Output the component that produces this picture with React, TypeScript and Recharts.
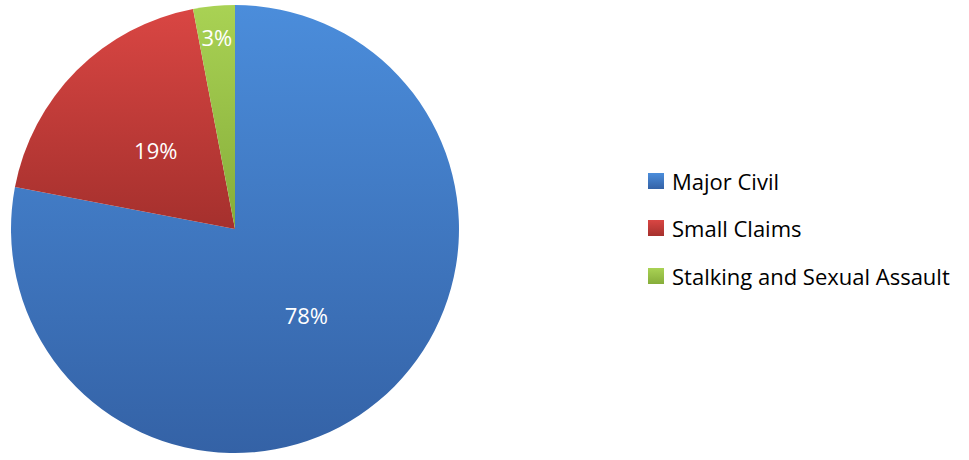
import React from 'react';
import { PieChart, Pie, Cell, Legend } from 'recharts';

const categories = ['Major Civil', 'Small Claims', 'Stalking and Sexual Assault'];
const shares = [78, 19, 3];
const topColors = ['#4b8ddb', '#d94643', '#a9d254'];
const bottomColors = ['#3462a6', '#a5302d', '#86ad3a'];

const data = categories.map((name, i) => ({ name, value: shares[i] }));

const RADIAN = Math.PI / 180;

const renderLabel = (props: any) => {
  const { cx, cy, midAngle, outerRadius, percent } = props;
  const r = percent < 0.05 ? outerRadius * 0.86 : outerRadius * 0.5;
  const x = cx + r * Math.cos(-midAngle * RADIAN);
  const y = cy + r * Math.sin(-midAngle * RADIAN);
  return (
    <text x={x} y={y} fill="#ffffff" textAnchor="middle" dominantBaseline="central"
      fontSize={22} fontFamily="'Open Sans', sans-serif">
      {`${Math.round(percent * 100)}%`}
    </text>
  );
};

const LegendContent = () => (
  <div style={{ fontFamily: "'Open Sans', sans-serif", fontSize: 22, color: '#000' }}>
    {categories.map((name, i) => (
      <div key={name} style={{ display: 'flex', alignItems: 'center', height: 47.5 }}>
        <span
          style={{
            display: 'inline-block', width: 16, height: 16, marginRight: 8,
            background: `linear-gradient(${topColors[i]}, ${bottomColors[i]})`,
          }}
        />
        <span>{name}</span>
      </div>
    ))}
  </div>
);

export default function App() {
  return (
    <div style={{ position: 'absolute', left: 0, top: 0, width: 969, height: 460, background: '#fff' }}>
      <PieChart width={969} height={460} margin={{ top: 0, right: 0, bottom: 0, left: 0 }}>
        <defs>
          {categories.map((name, i) => (
            <linearGradient key={name} id={`grad${i}`} x1="0" y1="0" x2="0" y2="1">
              <stop offset="0%" stopColor={topColors[i]} />
              <stop offset="100%" stopColor={bottomColors[i]} />
            </linearGradient>
          ))}
        </defs>
        <Pie
          data={data}
          dataKey="value"
          nameKey="name"
          cx={235}
          cy={229}
          outerRadius={224}
          startAngle={90}
          endAngle={-270}
          stroke="none"
          labelLine={false}
          label={renderLabel}
          isAnimationActive={false}
        >
          {data.map((d, i) => (
            <Cell key={d.name} fill={`url(#grad${i})`} />
          ))}
        </Pie>
        <Legend
          layout="vertical"
          content={<LegendContent />}
          wrapperStyle={{ left: 648, top: 157, width: 321 }}
        />
      </PieChart>
    </div>
  );
}
